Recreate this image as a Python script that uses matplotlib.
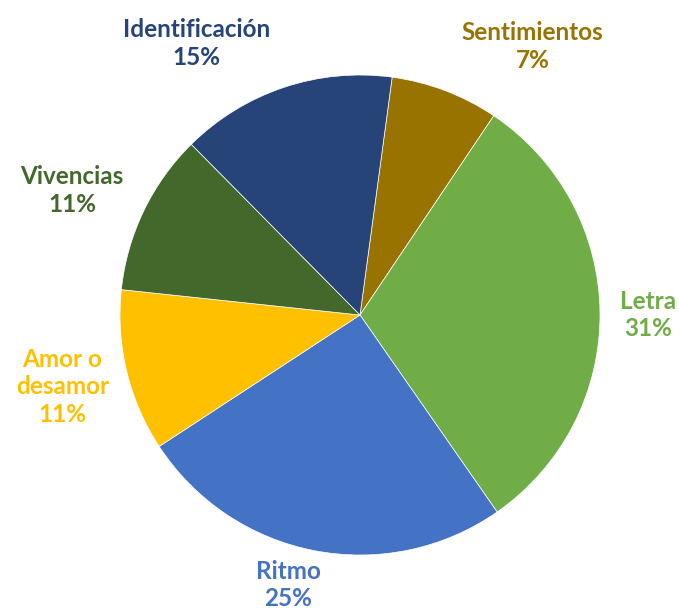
import matplotlib.pyplot as plt

categories = ["Sentimientos", "Letra", "Ritmo", "Amor o\ndesamor", "Vivencias", "Identificación"]
counts = [4, 17, 14, 6, 6, 8]
colors = ["#997300", "#70AD47", "#4472C4", "#FFC000", "#43682B", "#264478"]

# label anchor points, in units of pie radius
label_pos = [(0.72, 1.12), (1.2, 0.0), (-0.3, -1.125), (-1.24, -0.3), (-1.2, 0.52), (-0.68, 1.13)]

total = sum(counts)

fig = plt.figure(figsize=(6.78, 6.12), dpi=100)
ax = fig.add_axes([0, 0, 1, 1])

ax.pie(counts, colors=colors, startangle=82.3, counterclock=False,
       radius=1.0, wedgeprops=dict(linewidth=0.5, edgecolor="white"))

for name, c, col, (x, y) in zip(categories, counts, colors, label_pos):
    pct = round(100 * c / total)
    ax.text(x, y, f"{name}\n{pct}%", color=col, fontsize=17.5, fontweight="bold",
            family="Lato", ha="center", va="center", linespacing=1.25)

ax.set_xlim(-1.5, 1.325)
ax.set_ylim(-1.2375, 1.3125)
ax.set_aspect("equal")
ax.axis("off")

fig.savefig("out.png", dpi=100)
